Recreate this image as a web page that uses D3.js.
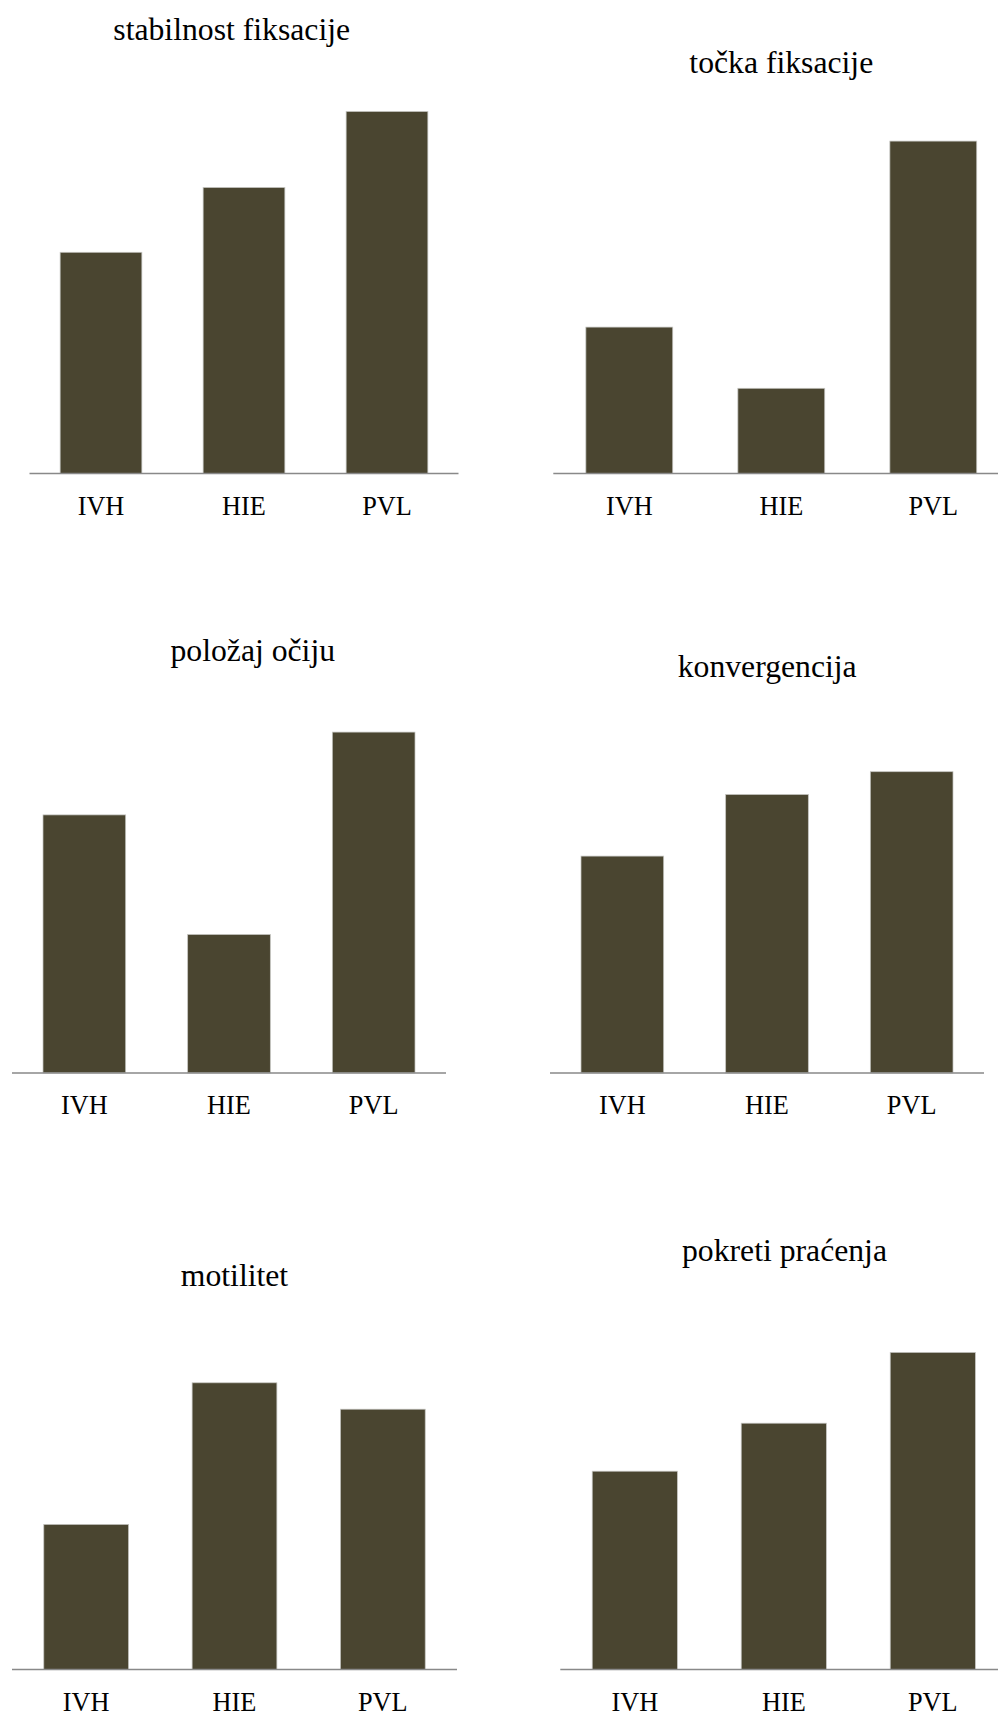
<!DOCTYPE html>
<html>
<head>
<meta charset="utf-8">
<script src="https://cdn.jsdelivr.net/npm/d3@7"></script>
<style>
  html, body { margin: 0; padding: 0; background: #ffffff; }
  svg { display: block; }
  text { font-family: "Liberation Serif", "Times New Roman", serif; fill: #000; }
</style>
</head>
<body>
<svg id="chart" width="998" height="1715"></svg>
<script>
// ---- data ----
const categories = ["IVH", "HIE", "PVL"];
const titles = ["stabilnost fiksacije", "točka fiksacije", "položaj očiju", "konvergencija", "motilitet", "pokreti praćenja"];
const stabilnostFiksacije = [55.3, 71.5, 90.5];
const tockaFiksacije      = [36.6, 21.3, 83.1];
const polozajOciju        = [64.5, 34.6, 85.2];
const konvergencija       = [54.2, 69.6, 75.3];
const motilitet           = [36.3, 71.7, 65.1];
const pokretiPracenja     = [49.6, 61.6, 79.3];
const seriesValues = [stabilnostFiksacije, tockaFiksacije, polozajOciju, konvergencija, motilitet, pokretiPracenja];
const yMax = 100;

// ---- layout (positions only) ----
const layout = [
  { x0: 29.5,  x1: 458.5,  base: 473.5,  titleX: 231.7, titleY: 39.5 },
  { x0: 553.3, x1: 1009.3, base: 473.5,  titleX: 781.3, titleY: 72.5 },
  { x0: 12,    x1: 446,    base: 1072.9, titleX: 252.8, titleY: 660.5 },
  { x0: 550,   x1: 984,    base: 1072.9, titleX: 767.2, titleY: 677 },
  { x0: 12,    x1: 457,    base: 1669.6, titleX: 234.5, titleY: 1285.5 },
  { x0: 560.3, x1: 1007.3, base: 1669.6, titleX: 784.5, titleY: 1260.5 }
];
const plotHeight = 400;
const titleFontSize = 31.7;
const labelFontSize = 26.3;
const barFill = "#4a4530";
const barStroke = "#c4c4c0";
const axisColor = "#898989";

const svg = d3.select("#chart");

layout.forEach((L, i) => {
  const g = svg.append("g");
  const x = d3.scaleBand()
    .domain(categories)
    .range([L.x0, L.x1])
    .paddingInner(0.75 / 1.75)
    .paddingOuter(0.75 / 3.5);
  const y = d3.scaleLinear()
    .domain([0, yMax])
    .range([L.base, L.base - plotHeight]);

  const data = categories.map((c, k) => ({ cat: c, val: seriesValues[i][k] }));

  g.selectAll("rect.bar")
    .data(data)
    .join("rect")
    .attr("class", "bar")
    .attr("x", d => x(d.cat))
    .attr("width", x.bandwidth())
    .attr("y", d => y(d.val))
    .attr("height", d => y(0) - y(d.val))
    .attr("fill", barFill)
    .attr("stroke", barStroke)
    .attr("stroke-width", 0.75);

  const axis = d3.axisBottom(x).tickSize(0).tickPadding(0);
  const ag = g.append("g")
    .attr("transform", `translate(0,${L.base})`)
    .call(axis)
    .attr("font-family", null)
    .attr("font-size", null);
  ag.select(".domain")
    .attr("stroke", axisColor)
    .attr("stroke-width", 1.5)
    .attr("d", `M${L.x0},0H${L.x1}`);
  ag.selectAll(".tick text")
    .attr("y", 41)
    .attr("dy", null)
    .style("font-size", labelFontSize + "px")
    .style("font-family", "'Liberation Serif', 'Times New Roman', serif")
    .attr("fill", "#000");

  g.append("text")
    .attr("x", L.titleX)
    .attr("y", L.titleY)
    .attr("text-anchor", "middle")
    .style("font-size", titleFontSize + "px")
    .text(titles[i]);
});
</script>
</body>
</html>
